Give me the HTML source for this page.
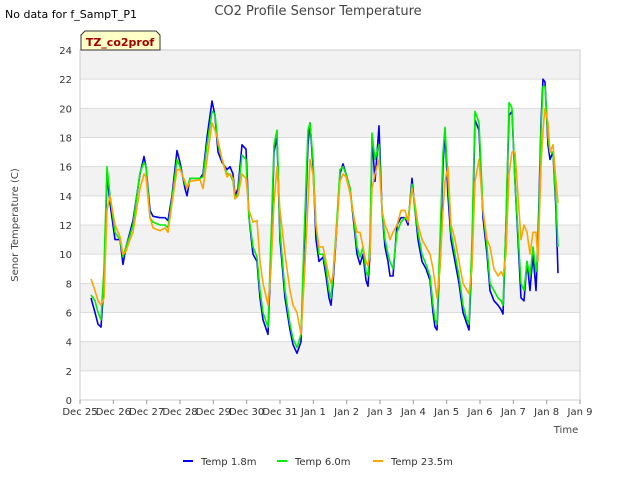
<!DOCTYPE html>
<html><head><meta charset="utf-8"><style>
body{margin:0;background:#fff;font-family:"Liberation Sans",sans-serif}
svg text{font-family:"DejaVu Sans","Liberation Sans",sans-serif}
</style></head><body>
<svg id="c" width="640" height="480" viewBox="0 0 640 480" xmlns="http://www.w3.org/2000/svg">
<text x="5" y="18" font-size="11" fill="#000">No data for f_SampT_P1</text>
<text x="318" y="15" font-size="13" fill="#444" text-anchor="middle">CO2 Profile Sensor Temperature</text>
<g id="plot"></g>
<text x="18" y="225" font-size="10" fill="#444" text-anchor="middle" transform="rotate(-90 18 225)">Senor Temperature (C)</text>
<text x="566" y="433" font-size="10" fill="#444" text-anchor="middle">Time</text>
<g>
<path d="M81,50 L81,35 L85,31 L156,31 L160,35 L160,50 Z" fill="#ffffc8" stroke="#333" stroke-width="1"/>
<text x="120" y="46" font-size="11" font-weight="bold" fill="#a00000" text-anchor="middle">TZ_co2prof</text>
</g>
<g id="legend"></g>
</svg>
<script>
const dayTicks=["Dec 25","Dec 26","Dec 27","Dec 28","Dec 29","Dec 30","Dec 31","Jan 1","Jan 2","Jan 3","Jan 4","Jan 5","Jan 6","Jan 7","Jan 8","Jan 9"];
const yTicks=[0,2,4,6,8,10,12,14,16,18,20,22,24];
const times=[0.33,0.45,0.54,0.63,0.72,0.81,0.90,1.05,1.20,1.29,1.38,1.50,1.59,1.80,1.92,1.98,2.10,2.19,2.40,2.55,2.64,2.76,2.91,3.00,3.15,3.21,3.30,3.60,3.69,3.81,3.96,4.05,4.14,4.26,4.41,4.50,4.59,4.65,4.74,4.86,4.98,5.07,5.19,5.31,5.40,5.49,5.64,5.73,5.82,5.91,6.00,6.15,6.30,6.39,6.51,6.63,6.72,6.84,6.90,6.99,7.08,7.17,7.29,7.38,7.47,7.53,7.59,7.71,7.80,7.89,7.98,8.10,8.22,8.31,8.40,8.49,8.58,8.64,8.70,8.76,8.85,8.97,9.06,9.15,9.24,9.30,9.39,9.51,9.63,9.75,9.84,9.96,10.05,10.14,10.26,10.38,10.50,10.59,10.65,10.71,10.80,10.89,10.95,11.04,11.13,11.25,11.37,11.49,11.61,11.67,11.76,11.85,11.97,12.09,12.21,12.30,12.42,12.54,12.63,12.69,12.78,12.87,12.96,13.05,13.14,13.23,13.32,13.41,13.50,13.59,13.68,13.74,13.83,13.89,13.95,14.04,14.10,14.19,14.28,14.34];
const temp18=[7.0,6.0,5.2,5.0,8,15.5,13.5,11,11,9.3,10.5,11.5,12.3,15.5,16.7,16,13,12.6,12.5,12.5,12.3,14,17.1,16.3,14.5,14,15.2,15.2,15.5,18,20.5,19.5,17,16.3,15.8,16,15.5,14,14.5,17.5,17.2,12.5,10,9.5,7,5.5,4.5,10,17,18,11,7,4.8,3.8,3.2,4,10,17.5,19,16,11,9.5,9.8,8.5,7,6.5,8,12,15.5,16.2,15.5,14.5,12,10,9.3,10,8.2,7.8,10,18,15,18.8,13,10.5,9.5,8.5,8.5,12,12.5,12.5,12,15.2,13,11,9.5,9,8.2,6,5,4.8,10,16,18.5,14,11,9.5,8,6,5.2,4.8,10,19.2,18.5,12.5,10,7.5,6.8,6.5,6.2,5.9,12,19.5,19.8,15,11,7,6.8,9.5,7.5,10,7.5,11,19,22,21.8,17.5,16.5,17,13,8.7];
const temp60=[7.2,6.8,6.0,5.5,9,16,14,11.5,11,9.8,10.5,11.3,12,15.6,16.3,16,12.5,12.2,12,12,11.8,13.8,16.5,16,14.8,14.5,15.2,15.2,15.3,17.5,19.8,19.6,17.5,16.5,15.5,15.5,15,13.8,14.2,16.8,16.5,12.5,10.5,9.8,7.5,6,5,11,17.5,18.5,11.5,7.5,5.2,4.2,3.6,4.5,11,18.5,19,16.5,12,10,10,9,7.5,7,8.5,12.5,15.8,16,15.5,14.5,12.3,10.5,9.8,10.5,8.8,8.5,11,18.3,16.5,17.5,13,11,10,9.5,9,11.5,12.2,12.5,12.3,14.8,13,11.5,10,9.3,8.5,6.5,5.5,5.2,11,17,18.7,15,11.5,10,8.5,6.5,5.5,5.2,11,19.8,19,13,10.5,8,7.5,7,6.8,6.5,12,20.4,20,15,11.5,8,7.5,9.5,8.5,10.5,8.8,10,18.5,21.5,21.5,18,17,17,13.5,10.5];
const temp235=[8.3,7.5,6.8,6.5,7,13,14,12,11.2,10,10.2,11,11.5,14.5,15.5,15.3,12.5,11.8,11.6,11.8,11.5,13.5,15.8,15.8,15,14.5,15,15.1,14.5,16.5,19,18.5,17.8,16.5,15.3,15.5,15.2,13.8,14,15.5,15.2,13,12.2,12.3,9.5,8,6.5,9,13.5,16,13,10,7.5,6.5,6,4.5,8,13.5,16.5,15.5,12,10.5,10.5,9.5,8.5,8,8.5,12,15,15.5,15.3,14.2,12.5,11.5,11.5,10.5,9.5,9.2,10,14.5,15.5,16.5,13,12,11.5,11,11.5,12,13,13,12.2,14.5,13.5,12,11,10.5,10,9,8,7,9,13,15,16,12,11,9.5,8,7.5,7.3,9,15,16.5,13,11,10.5,9,8.5,8.8,8.5,10,15.5,17,17,14,11,12,11.5,10,11.5,11.5,9.5,16,18.5,20,19,17,17.5,15,13.5];

const NS="http://www.w3.org/2000/svg";
const X0=80,X1=580,Y0=400,Y1=50;
const xs=d=>X0+(X1-X0)*d/15;
const ys=v=>Y0-(Y0-Y1)*v/24;
const plot=document.getElementById('plot');
function mk(t,a,p){const e=document.createElementNS(NS,t);for(const k in a)e.setAttribute(k,a[k]);(p||plot).appendChild(e);return e;}
for(let i=0;i<yTicks.length-1;i++){
  if(i%2===1){const r=mk('rect',{x:X0,y:ys(yTicks[i+1]),width:X1-X0,height:ys(yTicks[i])-ys(yTicks[i+1]),fill:'#f2f2f2'});
  
  }
}
yTicks.forEach(v=>{
  const l=mk('line',{x1:X0,x2:X1,y1:ys(v),y2:ys(v),stroke:'#dcdcdc','stroke-width':1});
  
  
  const t=mk('text',{x:X0-8,y:ys(v)+4,'font-size':10,fill:'#333','text-anchor':'end'});
  
  
  t.textContent=v;
});
mk('rect',{x:X0,y:Y1,width:X1-X0,height:Y0-Y1,fill:'none',stroke:'#ccc'});
dayTicks.forEach((s,i)=>{
  mk('line',{x1:xs(i),x2:xs(i),y1:Y0,y2:Y0+4,stroke:'#999'});
  const t=mk('text',{x:xs(i),y:Y0+15,'font-size':10,fill:'#333','text-anchor':'middle'});
  
  
  t.textContent=s;
});
const series=[["Temp 1.8m",temp18,"#0000ee"],["Temp 6.0m",temp60,"#00ee00"],["Temp 23.5m",temp235,"#ffa500"]];
series.forEach(([n,vals,c])=>{
  const d=vals.map((v,i)=>(i?'L':'M')+xs(times[i]).toFixed(1)+','+ys(v).toFixed(1)).join('');
  const p=mk('path',{d:d,fill:'none',stroke:c,'stroke-width':1.6,'stroke-linejoin':'round'});
  
  
});
const leg=document.getElementById('legend');
const lx=[183,277,373];
series.forEach(([n,vals,c],i)=>{
  const g=mk('g',{},leg);
  
  
  mk('line',{x1:lx[i],x2:lx[i]+10,y1:461,y2:461,stroke:c,'stroke-width':2},g);
  const t=mk('text',{x:lx[i]+18,y:465,'font-size':10,fill:'#333'},g);
  t.textContent=n;
});
</script>
</body></html>
